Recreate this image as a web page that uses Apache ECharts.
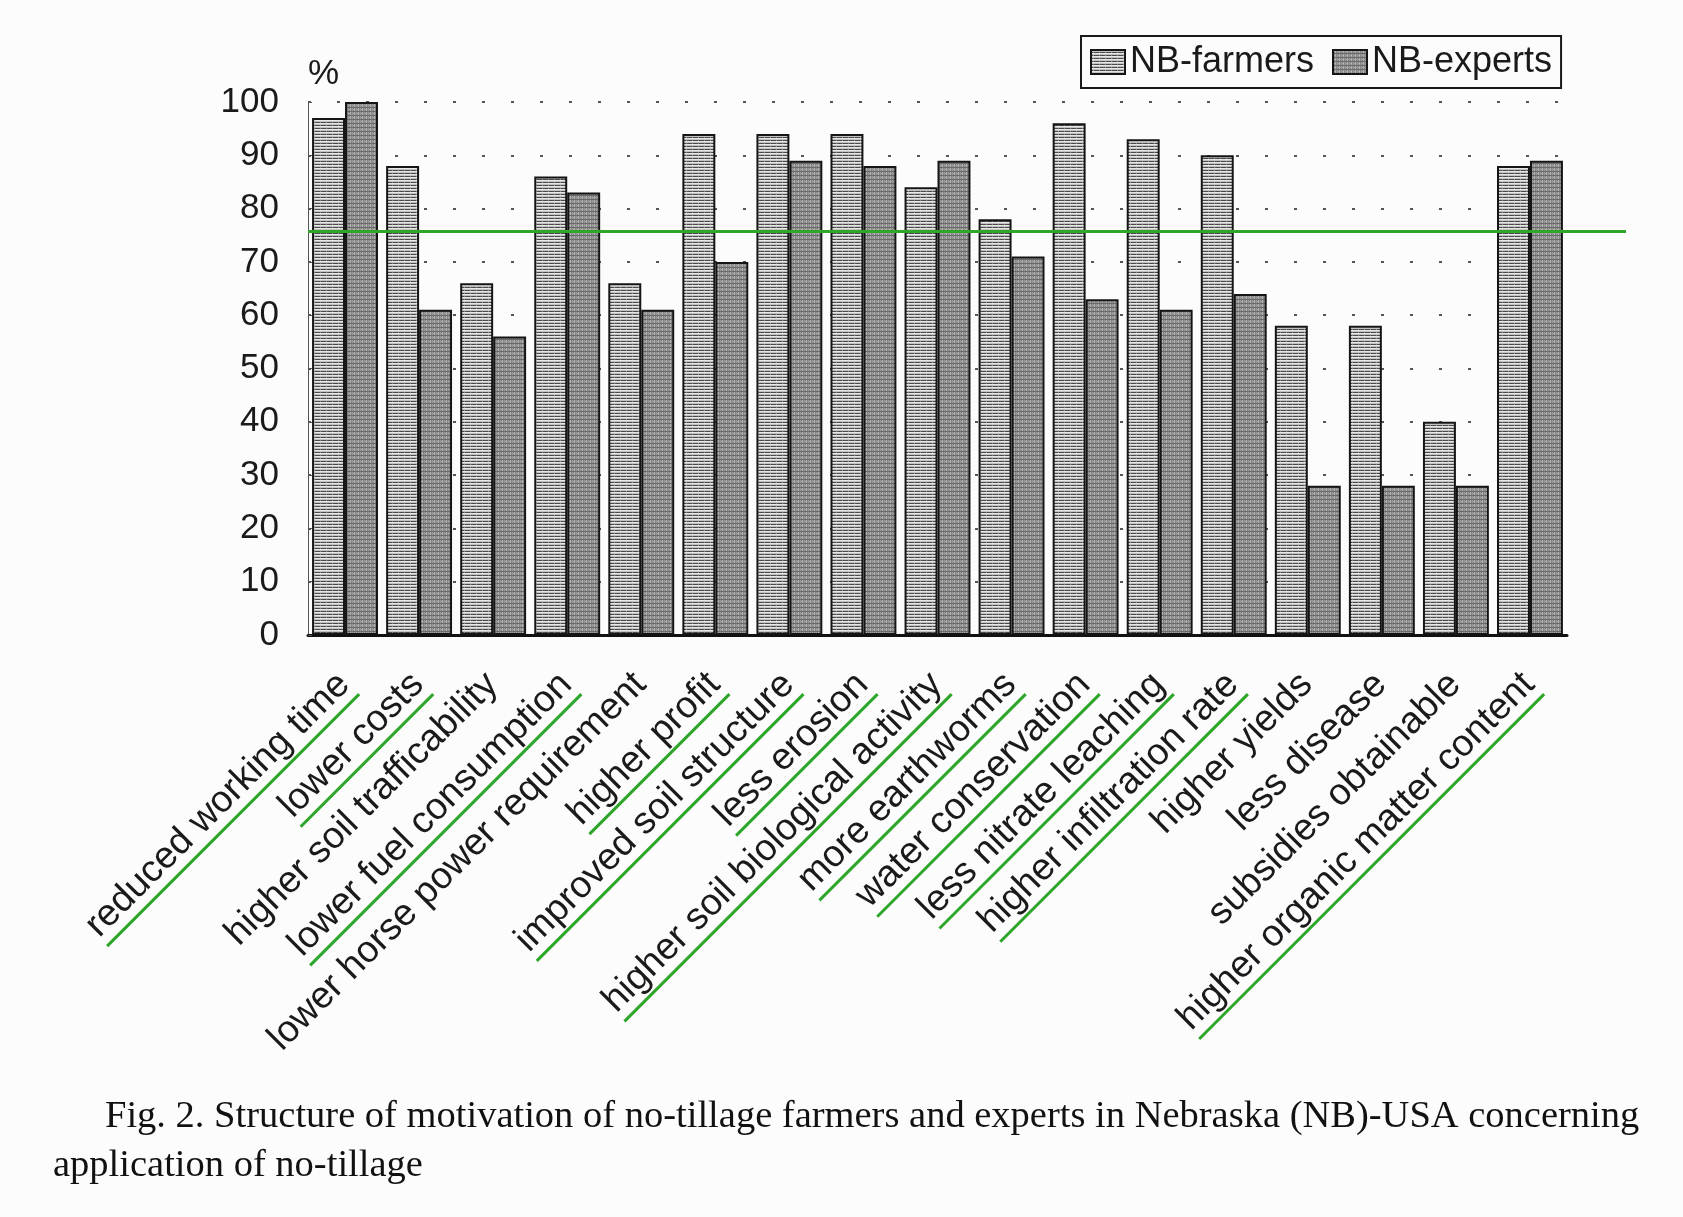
<!DOCTYPE html>
<html>
<head>
<meta charset="utf-8">
<script src="https://cdn.jsdelivr.net/npm/echarts@6/dist/echarts.min.js"></script>
<style>
  html, body { margin: 0; padding: 0; background: #fcfcfc; }
  #chart { width: 1683px; height: 1217px; }
</style>
</head>
<body>
<div id="chart"></div>
<script>
// ---- data ----
var categories = [
  'reduced working time', 'lower costs', 'higher soil trafficability',
  'lower fuel consumption', 'lower horse power requirement', 'higher profit',
  'improved soil structure', 'less erosion', 'higher soil biological activity',
  'more earthworms', 'water conservation', 'less nitrate leaching',
  'higher infiltration rate', 'higher yields', 'less disease',
  'subsidies obtainable', 'higher organic matter content'
];
var farmers = [97, 88, 66, 86, 66, 94, 94, 94, 84, 78, 96, 93, 90, 58, 58, 40, 88];
var experts = [100, 61, 56, 83, 61, 70, 89, 88, 89, 71, 63, 61, 64, 28, 28, 28, 89];
var underlined = [true, true, false, true, false, true, true, true, true, true, true, true, true, false, false, false, true];
var seriesNames = ['NB-farmers', 'NB-experts'];
var yTicks = { min: 0, max: 100, interval: 10 };
var threshold = 75.7;
var captionLines = [
  'Fig. 2. Structure of motivation of no-tillage farmers and experts in Nebraska (NB)-USA concerning',
  'application of no-tillage'
];

// ---- patterns ----
function makePattern(w, h, draw) {
  var c = document.createElement('canvas');
  c.width = w; c.height = h;
  var ctx = c.getContext('2d');
  draw(ctx);
  return { image: c, repeat: 'repeat' };
}
var farmerFill = makePattern(6, 3, function (ctx) {
  ctx.fillStyle = '#e6e6e6'; ctx.fillRect(0, 0, 6, 1);
  ctx.fillStyle = '#c2c2c2'; ctx.fillRect(0, 1, 6, 1);
  ctx.fillStyle = '#4a4a4a'; ctx.fillRect(0, 2, 6, 1);
  ctx.fillStyle = '#8a8a8a'; ctx.fillRect(2, 2, 1, 1);
});
var expertFill = makePattern(4, 4, function (ctx) {
  var cols = ['#9a9a9a', '#7c7c7c', '#b2b2b2', '#848484'];
  for (var i = 0; i < 4; i++) { ctx.fillStyle = cols[i]; ctx.fillRect(i, 0, 1, 4); }
  ctx.fillStyle = '#6a6a6a'; ctx.fillRect(0, 3, 4, 1);
  ctx.fillStyle = '#a6a6a6'; ctx.fillRect(1, 1, 1, 1);
});

var green = '#2ea62a';
var sans = '"Liberation Sans", Arial, Helvetica, sans-serif';
var serif = '"Liberation Serif", "Times New Roman", serif';

var chart = echarts.init(document.getElementById('chart'), null, { renderer: 'canvas' });

chart.setOption({
  backgroundColor: '#fcfcfc',
  animation: false,
  title: [
    { text: captionLines[0], left: 100, top: 1092,
      textStyle: { fontFamily: serif, fontSize: 38.5, fontWeight: 'normal', color: '#111' } },
    { text: captionLines[1], left: 48, top: 1141,
      textStyle: { fontFamily: serif, fontSize: 38.5, fontWeight: 'normal', color: '#111' } }
  ],
  legend: {
    data: seriesNames,
    left: 1081, top: 36,
    orient: 'horizontal',
    icon: 'rect',
    itemWidth: 34, itemHeight: 24, itemGap: 18,
    padding: [8, 9],
    borderColor: '#1a1a1a', borderWidth: 2,
    backgroundColor: '#fcfcfc',
    textStyle: { fontFamily: sans, fontSize: 36, color: '#1a1a1a', lineHeight: 36 }
  },
  grid: [
    { left: 308, right: 116, top: 102, bottom: 582, containLabel: false },
    { left: 308, right: 57, top: 102, bottom: 582, containLabel: false }
  ],
  xAxis: [
    {
      type: 'category', gridIndex: 0, data: categories,
      boundaryGap: true,
      axisLine: { lineStyle: { color: '#111', width: 3 } },
      axisTick: { show: false },
      axisLabel: {
        interval: 0, rotate: 45, margin: 45,
        formatter: function (v, idx) {
          return '{t|' + v + '}\n' + (underlined[idx] ? '{u|}' : '{n|}');
        },
        rich: {
          t: { fontFamily: sans, fontSize: 37.5, color: '#1a1a1a', lineHeight: 40 },
          u: { width: '100%', height: 3, backgroundColor: green },
          n: { width: '100%', height: 3 }
        }
      },
      splitLine: { show: false }
    },
    { type: 'value', gridIndex: 1, min: 0, max: 1, show: false }
  ],
  yAxis: [
    {
      type: 'value', gridIndex: 0,
      min: yTicks.min, max: yTicks.max, interval: yTicks.interval,
      name: '%', nameLocation: 'end', nameGap: 10,
      nameTextStyle: { fontFamily: sans, fontSize: 35, color: '#1a1a1a', align: 'left' },
      axisLine: { show: true, lineStyle: { color: '#555', width: 1 } },
      axisTick: { show: true, inside: true, length: 4, lineStyle: { color: '#555' } },
      axisLabel: { fontFamily: sans, fontSize: 35, color: '#1a1a1a', margin: 29 },
      splitLine: { show: true, lineStyle: { color: '#555', width: 2, type: [3, 26] } }
    },
    { type: 'value', gridIndex: 1, min: yTicks.min, max: yTicks.max, show: false }
  ],
  series: [
    {
      name: seriesNames[0], type: 'bar', xAxisIndex: 0, yAxisIndex: 0,
      data: farmers, barGap: '0%', barCategoryGap: '11%',
      itemStyle: { color: farmerFill, borderColor: '#151515', borderWidth: 2 }
    },
    {
      name: seriesNames[1], type: 'bar', xAxisIndex: 0, yAxisIndex: 0,
      data: experts, barGap: '0%', barCategoryGap: '11%',
      itemStyle: { color: expertFill, borderColor: '#151515', borderWidth: 2 }
    },
    {
      name: 'threshold', type: 'line', xAxisIndex: 1, yAxisIndex: 1,
      data: [[0, threshold], [1, threshold]],
      symbol: 'none', z: 10,
      lineStyle: { color: green, width: 3 }
    }
  ]
});
</script>
</body>
</html>
